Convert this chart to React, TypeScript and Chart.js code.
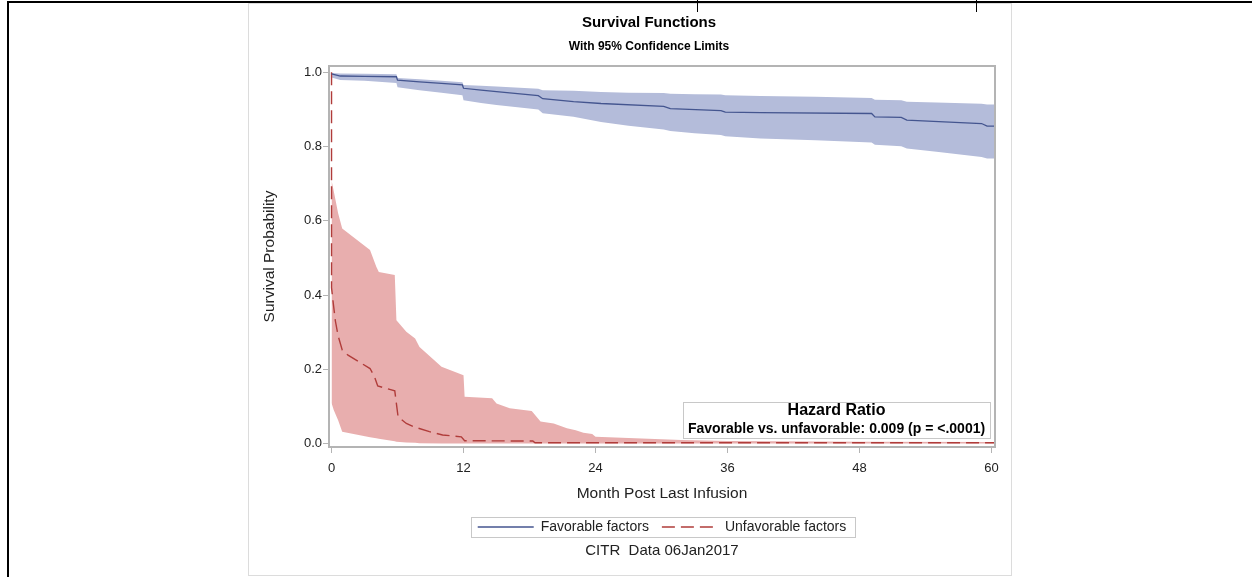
import React, { useEffect, useRef } from 'react';
import { Chart, registerables } from 'chart.js';

Chart.register(...registerables);

const FONT = "'Liberation Sans', Arial, sans-serif";

// ---- text ----
const titleText = 'Survival Functions';
const subtitleText = 'With 95% Confidence Limits';
const xAxisTitle = 'Month Post Last Infusion';
const yAxisTitle = 'Survival Probability';
const seriesLabels = ['Favorable factors', 'Unfavorable factors'];
const insetTitle = 'Hazard Ratio';
const insetText = 'Favorable vs. unfavorable: 0.009 (p = <.0001)';
const footnoteText = 'CITR  Data 06Jan2017';

// ---- ticks ----
const xTickValues = [0, 12, 24, 36, 48, 60];
const yTickValues = [0, 0.2, 0.4, 0.6, 0.8, 1.0];

// ---- favorable factors: survival estimate ----
const favMonths = [0, 0.8, 3, 5.9, 6.0, 8, 10, 11.9, 12.0, 13.6, 15, 18.8, 19.2, 22, 24.5, 30.2, 30.8, 35.4, 35.8, 39, 49.1, 49.4, 51.8, 52.3, 59.1, 59.6, 60.5];
const favSurvival = [0.996, 0.990, 0.989, 0.988, 0.979, 0.974, 0.970, 0.966, 0.957, 0.952, 0.948, 0.937, 0.929, 0.921, 0.916, 0.9085, 0.902, 0.897, 0.893, 0.8915, 0.889, 0.880, 0.8785, 0.871, 0.862, 0.855, 0.855];

// ---- favorable factors: 95% confidence band ----
const favBandMonths = [0, 0.8, 3, 5.9, 6.0, 8, 10, 11.9, 12.0, 13.6, 15, 18.8, 19.2, 22, 24.5, 27, 30.2, 30.8, 33, 35.4, 35.8, 39, 44, 49.1, 49.4, 51.8, 52.3, 55, 59.1, 59.6, 60.5];
const favUpper = [0.998, 0.997, 0.996, 0.995, 0.985, 0.981, 0.977, 0.973, 0.966, 0.964, 0.962, 0.956, 0.952, 0.950, 0.947, 0.945, 0.944, 0.942, 0.941, 0.940, 0.938, 0.936, 0.934, 0.931, 0.926, 0.925, 0.921, 0.919, 0.915, 0.913, 0.913];
const favLower = [0.986, 0.979, 0.977, 0.971, 0.960, 0.952, 0.945, 0.938, 0.925, 0.917, 0.912, 0.900, 0.890, 0.880, 0.866, 0.856, 0.846, 0.842, 0.836, 0.831, 0.828, 0.822, 0.817, 0.811, 0.805, 0.801, 0.795, 0.786, 0.772, 0.768, 0.768];

// ---- unfavorable factors: survival estimate ----
const unfMonths = [0, 0, 0.15, 0.35, 0.6, 0.97, 1.5, 2.5, 3.5, 3.9, 4.2, 5.75, 6.05, 6.8, 7.5, 8.9, 10.1, 11.8, 12.1, 18.3, 18.5, 60.5];
const unfSurvival = [1.0, 0.42, 0.38, 0.33, 0.29, 0.252, 0.238, 0.22, 0.202, 0.18, 0.155, 0.142, 0.072, 0.054, 0.045, 0.032, 0.023, 0.018, 0.0075, 0.0067, 0.002, 0.002];

// ---- unfavorable factors: 95% confidence band ----
const unfBandMonths = [0, 0.2, 0.6, 0.97, 3.5, 4.07, 4.3, 5.75, 5.9, 6.8, 7.6, 8.0, 10, 12, 12.1, 14.6, 15.0, 16.2, 18.2, 19, 20.2, 21.4, 22.2, 22.9, 23.7, 24, 31.8, 36, 48, 60.5];
const unfUpper = [0.709, 0.68, 0.62, 0.579, 0.521, 0.476, 0.462, 0.454, 0.332, 0.301, 0.283, 0.26, 0.207, 0.184, 0.126, 0.122, 0.108, 0.095, 0.0875, 0.059, 0.054, 0.041, 0.036, 0.029, 0.0256, 0.018, 0.0094, 0.007, 0.005, 0.004];
const unfLower = [0.109, 0.09, 0.063, 0.032, 0.017, 0.014, 0.013, 0.006, 0.005, 0.003, 0.002, 0.001, 0, 0, 0, 0, 0, 0, 0, 0, 0, 0, 0, 0, 0, 0, 0, 0, 0, 0];

// ---- colours ----
const FAV_LINE = '#44558f';
const FAV_BAND = '#b4bcda';
const UNF_LINE = '#b03c3a';
const UNF_BAND = '#e8aeae';
const AXIS = '#b4b4b4';
const TEXT = '#222222';

const pts = (xs: number[], ys: number[]) => xs.map((x, i) => ({ x, y: ys[i] }));

const TITLE_SHIFT = -13;

const titleShiftPlugin = {
  id: 'titleShift',
  afterLayout(chart: any) {
    (chart.boxes || []).forEach((b: any) => {
      const t = b && b.options && b.options.text;
      if (t === titleText || t === subtitleText) {
        b.left += TITLE_SHIFT;
        b.right += TITLE_SHIFT;
      }
    });
  },
};

const framePlugin = {
  id: 'frameTopRight',
  afterDraw(chart: any) {
    const { ctx, chartArea: a } = chart;
    ctx.save();
    ctx.strokeStyle = AXIS;
    ctx.lineWidth = 2;
    ctx.beginPath();
    ctx.moveTo(a.left, a.top);
    ctx.lineTo(a.right, a.top);
    ctx.lineTo(a.right, a.bottom);
    ctx.stroke();
    ctx.restore();
  },
};

const legendBoxPlugin = {
  id: 'legendBox',
  afterDraw(chart: any) {
    const hb = chart.legend && chart.legend.legendHitBoxes;
    if (!hb || !hb.length) return;
    const { ctx } = chart;
    const first = hb[0];
    const last = hb[hb.length - 1];
    const left = first.left - 7;
    const right = last.left + last.width + 8;
    const cy = first.top + first.height / 2;
    ctx.save();
    ctx.strokeStyle = '#c8c8c8';
    ctx.lineWidth = 1;
    ctx.strokeRect(Math.round(left) + 0.5, Math.round(cy - 10) + 0.5, Math.round(right - left), 20);
    ctx.restore();
  },
};

const insetPlugin = {
  id: 'insetBox',
  afterDraw(chart: any) {
    const { ctx, chartArea: a } = chart;
    const w = 307;
    const h = 36;
    const right = a.right - 5;
    const bottom = a.bottom - 9;
    const left = right - w;
    const top = bottom - h;
    ctx.save();
    ctx.fillStyle = '#ffffff';
    ctx.fillRect(left, top, w, h);
    ctx.strokeStyle = '#c8c8c8';
    ctx.lineWidth = 1;
    ctx.strokeRect(Math.round(left) + 0.5, Math.round(top) + 0.5, w, h);
    ctx.fillStyle = '#000000';
    ctx.textAlign = 'center';
    ctx.textBaseline = 'middle';
    ctx.font = `bold 16px ${FONT}`;
    ctx.fillText(insetTitle, left + w / 2, top + 9);
    ctx.font = `bold 14px ${FONT}`;
    ctx.fillText(insetText, left + w / 2, top + 27);
    ctx.restore();
  },
};

const footnotePlugin = {
  id: 'footnote',
  afterDraw(chart: any) {
    const { ctx, chartArea: a } = chart;
    ctx.save();
    ctx.fillStyle = TEXT;
    ctx.textAlign = 'center';
    ctx.textBaseline = 'middle';
    ctx.font = `15px ${FONT}`;
    ctx.fillText(footnoteText, (a.left + a.right) / 2, 547);
    ctx.restore();
  },
};

export default function App() {
  const ref = useRef<HTMLCanvasElement>(null);

  useEffect(() => {
    if (!ref.current) return;
    const chart = new Chart(ref.current, {
      type: 'line',
      data: {
        datasets: [
          {
            label: seriesLabels[0],
            data: pts(favMonths, favSurvival),
            borderColor: FAV_LINE,
            backgroundColor: FAV_LINE,
            borderWidth: 1.3,
            pointRadius: 0,
            tension: 0,
            fill: false,
          },
          {
            label: seriesLabels[1],
            data: pts(unfMonths, unfSurvival),
            borderColor: UNF_LINE,
            backgroundColor: UNF_LINE,
            borderWidth: 1.4,
            borderDash: [13, 6],
            pointRadius: 0,
            tension: 0,
            fill: false,
          },
          {
            label: 'fav lower',
            data: pts(favBandMonths, favLower),
            borderWidth: 0,
            borderColor: 'rgba(0,0,0,0)',
            pointRadius: 0,
            tension: 0,
            fill: false,
          },
          {
            label: 'fav upper',
            data: pts(favBandMonths, favUpper),
            borderWidth: 0,
            borderColor: 'rgba(0,0,0,0)',
            backgroundColor: FAV_BAND,
            pointRadius: 0,
            tension: 0,
            fill: '-1',
          },
          {
            label: 'unf lower',
            data: pts(unfBandMonths, unfLower),
            borderWidth: 0,
            borderColor: 'rgba(0,0,0,0)',
            pointRadius: 0,
            tension: 0,
            fill: false,
          },
          {
            label: 'unf upper',
            data: pts(unfBandMonths, unfUpper),
            borderWidth: 0,
            borderColor: 'rgba(0,0,0,0)',
            backgroundColor: UNF_BAND,
            pointRadius: 0,
            tension: 0,
            fill: '-1',
          },
        ],
      },
      options: {
        responsive: false,
        animation: false,
        events: [],
        layout: { padding: { left: 0, right: 16, top: 0, bottom: 30 } },
        plugins: {
          tooltip: { enabled: false },
          title: {
            display: true,
            text: titleText,
            fullSize: false,
            color: '#000',
            font: { family: FONT, size: 15, weight: 'bold' },
            padding: { top: 10, bottom: 0 },
          },
          subtitle: {
            display: true,
            text: subtitleText,
            fullSize: false,
            color: '#000',
            font: { family: FONT, size: 12, weight: 'bold' },
            padding: { top: 7.8, bottom: 11.8 },
          },
          legend: {
            display: true,
            position: 'bottom',
            fullSize: false,
            labels: {
              usePointStyle: true,
              pointStyle: 'line',
              pointStyleWidth: 56,
              padding: 13,
              color: TEXT,
              font: { family: FONT, size: 14 },
              filter: (item: any) => item.datasetIndex < 2,
              generateLabels: (chart: any) => {
                const items = Chart.defaults.plugins.legend.labels.generateLabels(chart);
                return items.map((it: any) => {
                  const ds = chart.data.datasets[it.datasetIndex];
                  return {
                    ...it,
                    strokeStyle: ds.borderColor,
                    fillStyle: ds.borderColor,
                    lineWidth: ds.borderWidth,
                    lineDash: ds.borderDash || [],
                  };
                });
              },
            },
          },
        },
        scales: {
          x: {
            type: 'linear',
            min: -0.23,
            max: 60.32,
            afterBuildTicks: (s: any) => {
              s.ticks = xTickValues.map((v) => ({ value: v }));
            },
            afterFit: (s: any) => {
              s.height = 60;
            },
            grid: { display: true, drawOnChartArea: false, drawTicks: true, tickLength: 6, color: AXIS, lineWidth: 1 },
            border: { display: true, color: AXIS, width: 2 },
            ticks: {
              color: TEXT,
              font: { family: FONT, size: 13 },
              padding: 8,
              maxRotation: 0,
              callback: (v: any) => String(v),
            },
            title: {
              display: true,
              text: xAxisTitle,
              color: TEXT,
              font: { family: FONT, size: 15.5 },
              padding: { top: 0, bottom: 3.7 },
            },
          },
          y: {
            type: 'linear',
            min: -0.0094,
            max: 1.017,
            afterBuildTicks: (s: any) => {
              s.ticks = yTickValues.map((v) => ({ value: v }));
            },
            afterFit: (s: any) => {
              s.width = 80;
            },
            grid: { display: true, drawOnChartArea: false, drawTicks: true, tickLength: 6, color: AXIS, lineWidth: 1 },
            border: { display: true, color: AXIS, width: 2 },
            ticks: {
              color: TEXT,
              font: { family: FONT, size: 13 },
              padding: 1,
              callback: (v: any) => Number(v).toFixed(1),
            },
            title: {
              display: true,
              text: yAxisTitle,
              color: TEXT,
              font: { family: FONT, size: 15.5 },
              padding: { top: 11.7, bottom: 0 },
            },
          },
        },
      } as any,
      plugins: [titleShiftPlugin, framePlugin, legendBoxPlugin, insetPlugin, footnotePlugin],
    });
    return () => chart.destroy();
  }, []);

  return (
    <div style={{ position: 'fixed', left: 0, top: 0, width: 1252, height: 577, background: '#fff', overflow: 'hidden' }}>
      <div
        style={{
          position: 'absolute',
          left: 248,
          top: 3,
          width: 762,
          height: 571,
          borderTop: '1px solid #dcdcdc',
          borderLeft: '1px solid #dcdcdc',
          borderRight: '1px solid #dcdcdc',
          borderBottom: '1px solid #dcdcdc',
        }}
      >
        <canvas ref={ref} width={762} height={570} style={{ display: 'block', width: 762, height: 570 }} />
      </div>
      <div style={{ position: 'absolute', left: 7, top: 1, width: 1245, height: 2, background: '#000' }} />
      <div style={{ position: 'absolute', left: 7, top: 1, width: 2, height: 576, background: '#000' }} />
      <div style={{ position: 'absolute', left: 697, top: 0, width: 1, height: 12, background: '#000' }} />
      <div style={{ position: 'absolute', left: 976, top: 0, width: 1, height: 12, background: '#000' }} />
    </div>
  );
}
